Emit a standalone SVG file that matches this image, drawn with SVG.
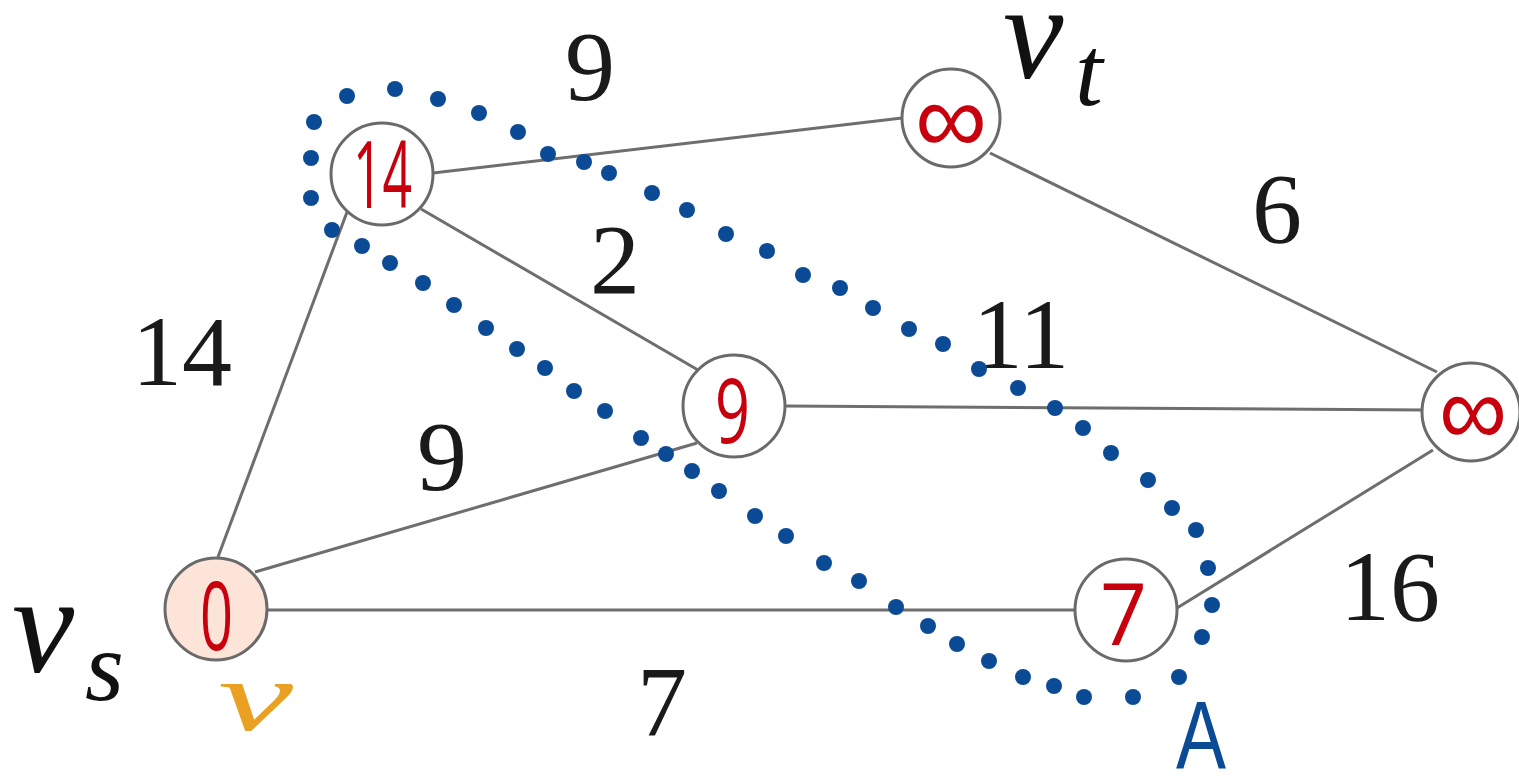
<svg xmlns="http://www.w3.org/2000/svg" width="1519" height="779" viewBox="0 0 1519 779">
<style>
.edge{stroke:#6e6e6e;stroke-width:3;fill:none}
.node{fill:#fff;stroke:#6a6a6a;stroke-width:3}
.src{fill:#fce4d8}
.val{font-family:"Open Sans","Liberation Sans",Arial,sans-serif;font-weight:500;fill:#c8000e;text-anchor:start}
.inf{font-family:"Liberation Sans",Arial,sans-serif;font-weight:400}
.w{font-family:"Liberation Serif","Times New Roman",serif;font-size:100px;fill:#1a1a1a;text-anchor:middle}
.m{font-family:"Liberation Serif","Times New Roman",serif;font-style:italic;fill:#111}
.dot{fill:#0b4a94}
</style>
<rect width="1519" height="779" fill="#fff"/>
<g id="connectors">
<line class="edge" x1="218" y1="557" x2="347" y2="212"/>
<line class="edge" x1="255" y1="572" x2="697" y2="443"/>
<line class="edge" x1="268" y1="610" x2="1076" y2="610"/>
<line class="edge" x1="433" y1="173" x2="902" y2="118"/>
<line class="edge" x1="421" y1="209" x2="698" y2="370"/>
<line class="edge" x1="990" y1="153" x2="1437" y2="372"/>
<line class="edge" x1="785" y1="406" x2="1425" y2="410"/>
<line class="edge" x1="1177" y1="608" x2="1433" y2="450"/>
</g>
<g id="weights">
<text class="w" x="590" y="100">9</text>
<text class="w" x="182" y="385">14</text>
<text class="w" x="615" y="293">2</text>
<text class="w" x="1021" y="368">11</text>
<text class="w" x="1277" y="242">6</text>
<text class="w" x="442" y="490">9</text>
<text class="w" x="1390" y="620">16</text>
<text class="w" x="662" y="735">7</text>
</g>
<g id="node-vs">
<circle class="node src" cx="216" cy="609" r="51"/>
<text class="val" x="200" y="650" font-size="96" textLength="33" lengthAdjust="spacingAndGlyphs">0</text>
</g>
<g id="node-a">
<circle class="node" cx="382" cy="174" r="51"/>
<text class="val" x="353" y="208" font-size="94" textLength="59" lengthAdjust="spacingAndGlyphs">14</text>
</g>
<g id="node-vt">
<circle class="node" cx="951" cy="118" r="49"/>
<text class="val inf" x="915" y="153" font-size="100" textLength="72" lengthAdjust="spacingAndGlyphs">∞</text>
</g>
<g id="node-b">
<circle class="node" cx="734" cy="406" r="51"/>
<text class="val" x="715" y="443" font-size="90" textLength="35" lengthAdjust="spacingAndGlyphs">9</text>
</g>
<g id="node-c">
<circle class="node" cx="1471" cy="412" r="49"/>
<text class="val inf" x="1439" y="445" font-size="100" textLength="68" lengthAdjust="spacingAndGlyphs">∞</text>
</g>
<g id="node-d">
<circle class="node" cx="1126" cy="610" r="51"/>
<text class="val" x="1100" y="645" font-size="86" textLength="47" lengthAdjust="spacingAndGlyphs">7</text>
</g>
<g id="labels">
<text class="m" x="12" y="672" font-size="140">v</text>
<text class="m" x="85" y="700" font-size="100">s</text>
<text class="m" x="1003" y="78" font-size="136">v</text>
<text class="m" x="1075" y="105" font-size="100">t</text>
<text x="218" y="730" font-family="Liberation Serif,serif" font-style="italic" font-size="100" fill="#e9a023" textLength="75" lengthAdjust="spacingAndGlyphs">v</text>
<text x="1176" y="768" font-family="Liberation Sans,sans-serif" font-size="96" fill="#0b4a94" textLength="50" lengthAdjust="spacingAndGlyphs">A</text>
</g>
<g id="set-A">
<circle class="dot" cx="311" cy="158" r="8"/>
<circle class="dot" cx="314" cy="122" r="8"/>
<circle class="dot" cx="347" cy="96" r="8"/>
<circle class="dot" cx="395" cy="89" r="8"/>
<circle class="dot" cx="438" cy="99" r="8"/>
<circle class="dot" cx="479" cy="113" r="8"/>
<circle class="dot" cx="518" cy="132" r="8"/>
<circle class="dot" cx="548" cy="154" r="8"/>
<circle class="dot" cx="584" cy="162" r="8"/>
<circle class="dot" cx="609" cy="173" r="8"/>
<circle class="dot" cx="652" cy="193" r="8"/>
<circle class="dot" cx="687" cy="210" r="8"/>
<circle class="dot" cx="726" cy="234" r="8"/>
<circle class="dot" cx="767" cy="251" r="8"/>
<circle class="dot" cx="803" cy="275" r="8"/>
<circle class="dot" cx="840" cy="288" r="8"/>
<circle class="dot" cx="873" cy="308" r="8"/>
<circle class="dot" cx="909" cy="329" r="8"/>
<circle class="dot" cx="943" cy="344" r="8"/>
<circle class="dot" cx="979" cy="369" r="8"/>
<circle class="dot" cx="1018" cy="388" r="8"/>
<circle class="dot" cx="1055" cy="408" r="8"/>
<circle class="dot" cx="1083" cy="428" r="8"/>
<circle class="dot" cx="1111" cy="453" r="8"/>
<circle class="dot" cx="1148" cy="480" r="8"/>
<circle class="dot" cx="1172" cy="508" r="8"/>
<circle class="dot" cx="1196" cy="530" r="8"/>
<circle class="dot" cx="1208" cy="568" r="8"/>
<circle class="dot" cx="1212" cy="605" r="8"/>
<circle class="dot" cx="1202" cy="637" r="8"/>
<circle class="dot" cx="1179" cy="677" r="8"/>
<circle class="dot" cx="1133" cy="697" r="8"/>
<circle class="dot" cx="1084" cy="697" r="8"/>
<circle class="dot" cx="1054" cy="686" r="8"/>
<circle class="dot" cx="1023" cy="677" r="8"/>
<circle class="dot" cx="989" cy="661" r="8"/>
<circle class="dot" cx="957" cy="644" r="8"/>
<circle class="dot" cx="928" cy="626" r="8"/>
<circle class="dot" cx="896" cy="607" r="8"/>
<circle class="dot" cx="859" cy="581" r="8"/>
<circle class="dot" cx="824" cy="563" r="8"/>
<circle class="dot" cx="786" cy="536" r="8"/>
<circle class="dot" cx="755" cy="516" r="8"/>
<circle class="dot" cx="719" cy="491" r="8"/>
<circle class="dot" cx="692" cy="471" r="8"/>
<circle class="dot" cx="666" cy="454" r="8"/>
<circle class="dot" cx="641" cy="438" r="8"/>
<circle class="dot" cx="605" cy="411" r="8"/>
<circle class="dot" cx="574" cy="391" r="8"/>
<circle class="dot" cx="545" cy="368" r="8"/>
<circle class="dot" cx="517" cy="349" r="8"/>
<circle class="dot" cx="486" cy="328" r="8"/>
<circle class="dot" cx="454" cy="305" r="8"/>
<circle class="dot" cx="423" cy="283" r="8"/>
<circle class="dot" cx="390" cy="263" r="8"/>
<circle class="dot" cx="362" cy="246" r="8"/>
<circle class="dot" cx="332" cy="230" r="8"/>
<circle class="dot" cx="311" cy="198" r="8"/>
</g>
</svg>
